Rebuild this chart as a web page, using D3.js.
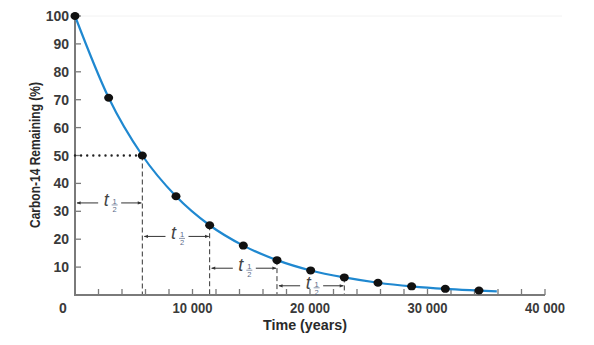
<!DOCTYPE html>
<html><head><meta charset="utf-8">
<script src="https://cdn.jsdelivr.net/npm/d3@7"></script>
<style>body{margin:0;background:#fff}svg{display:block}</style>
</head><body>
<svg id="c" width="594" height="345"></svg>
<script>
// Data
const times = [0, 2865, 5730, 8595, 11460, 14325, 17190, 20055, 22920, 25785, 28650, 31515, 34380];
const percents = [100, 70.7, 50, 35.4, 25, 17.7, 12.5, 8.8, 6.3, 4.4, 3.1, 2.2, 1.6];
const curveEnd = {t: 35900, p: 1.3};
const halfLifeTimes = [5730, 11460, 17190, 22920];
const halfLifeLevels = [50, 25, 12.5, 6.3];
const arrowStarts = [0, 5730, 11460, 17190];
const arrowEnds = [5730, 11460, 17190, 22920];
const arrowLevels = [33, 21, 9.6, 3.3];
const yTicks = [10, 20, 30, 40, 50, 60, 70, 80, 90, 100];
const xLabelTicks = [10000, 20000, 30000, 40000];
const xMinorTicks = d3.range(2000, 40001, 2000);

const svg = d3.select("#c");
const x = d3.scaleLinear().domain([0, 40000]).range([75, 545]);
const y = d3.scaleLinear().domain([0, 100]).range([295, 16]);
const ink = "#333";
const axisCol = "#7a7a7a";

// faint frame artifacts
svg.append("line").attr("x1", 76).attr("x2", 562).attr("y1", 16).attr("y2", 16).attr("stroke", "#f2f2f2");

// defs arrow
svg.append("defs").append("marker").attr("id", "ah").attr("viewBox", "0 0 10 10")
  .attr("refX", 9).attr("refY", 5).attr("markerWidth", 6).attr("markerHeight", 4)
  .attr("markerUnits", "userSpaceOnUse").attr("orient", "auto")
  .append("path").attr("d", "M0,1 L10,5 L0,9 Z").attr("fill", ink);

// Axes
const g = svg.append("g");
g.append("line").attr("x1", x(0)).attr("x2", x(0)).attr("y1", y(0)).attr("y2", y(100))
  .attr("stroke", axisCol).attr("stroke-width", 2);
g.append("line").attr("x1", x(0) - 1).attr("x2", x(40000)).attr("y1", y(0)).attr("y2", y(0))
  .attr("stroke", axisCol).attr("stroke-width", 2);

g.selectAll(".yt").data(yTicks).join("line")
  .attr("x1", x(0)).attr("x2", x(0) + 6).attr("y1", d => y(d)).attr("y2", d => y(d))
  .attr("stroke", axisCol).attr("stroke-width", 1.3);
g.selectAll(".xt").data(xMinorTicks).join("line")
  .attr("x1", d => x(d)).attr("x2", d => x(d)).attr("y1", y(0)).attr("y2", y(0) - 6)
  .attr("stroke", axisCol).attr("stroke-width", 1.3);

const tickFont = "'Liberation Sans', Arial, sans-serif";
g.selectAll(".yl").data(yTicks).join("text")
  .attr("x", 69).attr("y", d => y(d)).attr("dy", "0.36em").attr("text-anchor", "end")
  .attr("font-family", tickFont).attr("font-weight", "bold").attr("font-size", 14).attr("fill", "#3a3a3a").text(d => d);
g.append("text").attr("x", 63).attr("y", 308).attr("dy", "0.36em").attr("text-anchor", "middle")
  .attr("font-family", tickFont).attr("font-weight", "bold").attr("font-size", 14).attr("fill", "#3a3a3a").text("0");
const fmt = d => d3.format(",")(d).replace(/,/g, " ");
g.selectAll(".xl").data(xLabelTicks).join("text")
  .attr("x", d => x(d)).attr("y", 308).attr("dy", "0.36em").attr("text-anchor", "middle")
  .attr("font-family", tickFont).attr("font-weight", "bold").attr("font-size", 14).attr("fill", "#3a3a3a")
  .attr("textLength", 40).attr("lengthAdjust", "spacingAndGlyphs").text(fmt);

// axis titles
svg.append("text").attr("transform", "translate(40,155) rotate(-90)").attr("text-anchor", "middle")
  .attr("font-family", tickFont).attr("font-weight", "bold").attr("font-size", 14).attr("fill", "#2a2a2a")
  .attr("textLength", 146).attr("lengthAdjust", "spacingAndGlyphs")
  .text("Carbon-14 Remaining (%)");
svg.append("text").attr("x", 305).attr("y", 329.5).attr("text-anchor", "middle")
  .attr("font-family", tickFont).attr("font-weight", "bold").attr("font-size", 14).attr("fill", "#2a2a2a")
  .attr("textLength", 84).attr("lengthAdjust", "spacingAndGlyphs")
  .text("Time (years)");

// dotted line at 50
svg.append("line").attr("x1", x(0)).attr("x2", x(5730)).attr("y1", y(50)).attr("y2", y(50))
  .attr("stroke", "#222").attr("stroke-width", 2.4).attr("stroke-linecap", "round")
  .attr("stroke-dasharray", "0,6.1");

// dashed verticals
svg.selectAll(".vd").data(halfLifeTimes).join("line")
  .attr("x1", d => x(d)).attr("x2", d => x(d))
  .attr("y1", (d, i) => y(halfLifeLevels[i])).attr("y2", y(0) - 1)
  .attr("stroke", ink).attr("stroke-width", 1).attr("stroke-dasharray", "5,3");

// arrows with t1/2 labels
arrowStarts.forEach((s, i) => {
  const x0 = x(s) + 2, x1 = x(arrowEnds[i]) - 1, yy = y(arrowLevels[i]);
  const mid = (x0 + x1) / 2;
  svg.append("line").attr("x1", mid - 11).attr("x2", x0).attr("y1", yy).attr("y2", yy)
    .attr("stroke", ink).attr("stroke-width", 1).attr("marker-end", "url(#ah)");
  svg.append("line").attr("x1", mid + 12).attr("x2", x1).attr("y1", yy).attr("y2", yy)
    .attr("stroke", ink).attr("stroke-width", 1).attr("marker-end", "url(#ah)");
  const lg = svg.append("g").attr("transform", `translate(${mid},${yy})`);
  lg.append("text").attr("x", -3).attr("y", 3).attr("text-anchor", "middle")
    .attr("font-family", tickFont).attr("font-style", "italic")
    .attr("font-size", 18).attr("fill", "#444").text("t");
  lg.append("text").attr("x", 5.5).attr("y", 1).attr("text-anchor", "middle")
    .attr("font-family", tickFont).attr("font-size", 7.5).attr("fill", "#5a6a88").text("1");
  lg.append("line").attr("x1", 2.5).attr("x2", 8.5).attr("y1", 2).attr("y2", 2)
    .attr("stroke", "#5a6a88").attr("stroke-width", 0.7);
  lg.append("text").attr("x", 5.5).attr("y", 9).attr("text-anchor", "middle")
    .attr("font-family", tickFont).attr("font-size", 7.5).attr("fill", "#5a6a88").text("2");
});

// curve
const pts = times.map((t, i) => ({t, p: percents[i]})).concat([curveEnd]);
svg.append("path").datum(pts)
  .attr("d", d3.line().x(d => x(d.t)).y(d => y(d.p)).curve(d3.curveMonotoneX))
  .attr("fill", "none").attr("stroke", "#1f88d0").attr("stroke-width", 2.2);

// dots
svg.selectAll(".dot").data(times).join("ellipse")
  .attr("cx", d => x(d)).attr("cy", (d, i) => y(percents[i])).attr("rx", 4.5).attr("ry", 4)
  .attr("fill", "#111");
</script>
</body></html>
